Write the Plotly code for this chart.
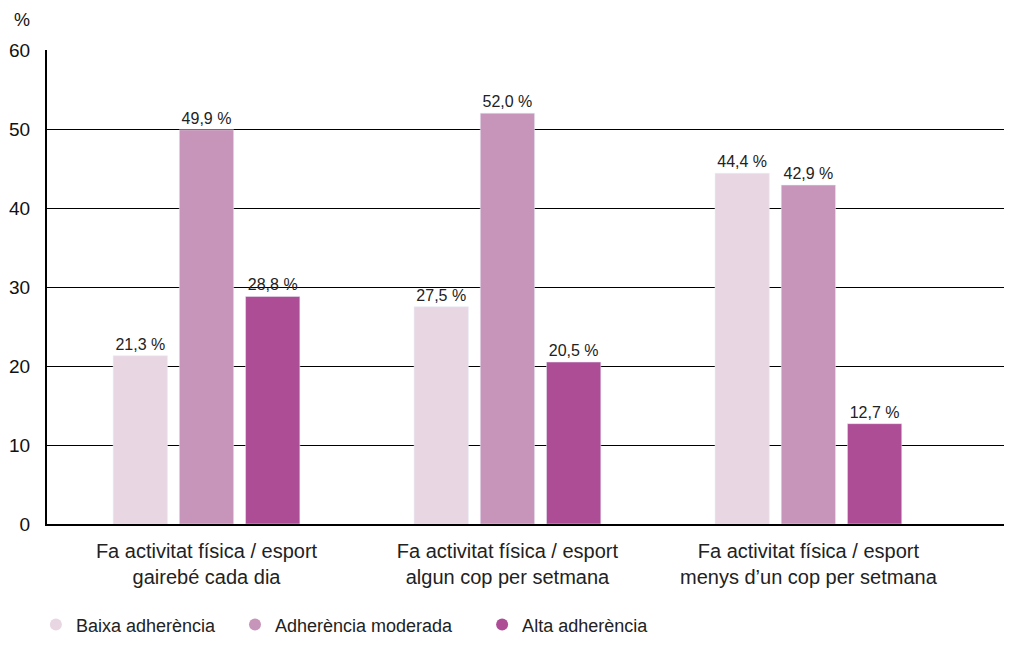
import plotly.graph_objects as go

categories = [
    "Fa activitat física / esport<br>gairebé cada dia",
    "Fa activitat física / esport<br>algun cop per setmana",
    "Fa activitat física / esport<br>menys d’un cop per setmana",
]
series_names = ["Baixa adherència", "Adherència moderada", "Alta adherència"]
baixa = [21.3, 27.5, 44.4]
moderada = [49.9, 52.0, 42.9]
alta = [28.8, 20.5, 12.7]
colors = ["#e8d7e3", "#c695b9", "#ad4d96"]
y_ticks = [0, 10, 20, 30, 40, 50, 60]

legend_pad = [3, 5, 3]  # trailing spaces between legend entries

font = "Liberation Sans, Arial, sans-serif"
fig = go.Figure()
for name, vals, col in zip(series_names, [baixa, moderada, alta], colors):
    fig.add_trace(go.Bar(
        x=categories, y=vals, name=name, marker_color=col,
        text=[f"{v:.1f}".replace(".", ",") + " %" for v in vals],
        textposition="outside", cliponaxis=False,
        textfont=dict(size=16, color="#222222", family=font),
        showlegend=False,
    ))
for name, col, pad in zip(series_names, colors, legend_pad):
    fig.add_trace(go.Scatter(
        x=[None], y=[None], mode="markers", name=name + "\u00a0" * pad,
        marker=dict(symbol="circle", size=16, color=col),
    ))

fig.update_layout(
    width=996, height=630,
    margin=dict(l=39, r=0, t=42, b=114),
    paper_bgcolor="white", plot_bgcolor="white",
    barmode="group", bargap=0.34, bargroupgap=0.18,
    font=dict(family=font, size=16, color="#111111"),
    showlegend=True,
    legend=dict(orientation="h", x=0.028, y=0.021, xanchor="left", yanchor="middle",
                xref="container", yref="container",
                font=dict(size=18, family=font, color="#222222"),
                itemsizing="constant"),
    xaxis=dict(showline=True, linecolor="black", linewidth=2, ticks="",
               range=[-0.53, 2.65], automargin=False, ticklabelstandoff=8,
               tickfont=dict(size=20, family=font, color="#222222")),
    yaxis=dict(range=[0, 60], tickvals=y_ticks, showgrid=True, gridcolor="black",
               gridwidth=1, showline=True, linecolor="black", linewidth=2,
               ticks="", ticklabelstandoff=11, zeroline=False, automargin=False,
               tickfont=dict(size=19, family=font, color="#111111")),
    annotations=[dict(text="%", xref="paper", yref="paper", x=-0.037, y=1.089,
                      xanchor="left", yanchor="top", showarrow=False,
                      font=dict(size=18, family=font, color="#111111"))],
)
fig.write_html("out.html")
